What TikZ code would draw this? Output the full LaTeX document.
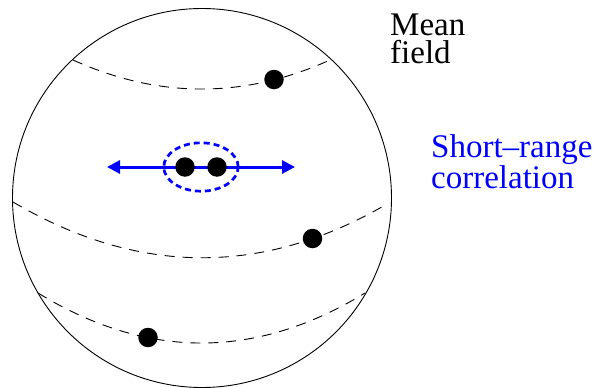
\documentclass[tikz,border=0pt]{standalone}
\usepackage{fontspec}
\setmainfont{Liberation Serif}
\usetikzlibrary{arrows.meta,shapes.geometric}
\begin{document}
\begin{tikzpicture}[x=1pt,y=-1pt,
  latline/.style={dash pattern=on 10pt off 8pt, line width=0.9pt},
  particle/.style={circle, fill=black, inner sep=0pt, minimum size=19.5pt},
  lbl/.style={font=\fontsize{33}{28}\selectfont, align=left, inner sep=0pt, anchor=north west},
  corrarrow/.style={blue, line width=3pt, {Triangle[length=13pt,width=13pt]}-{Triangle[length=13pt,width=13pt]}}]
\useasboundingbox (0,0) rectangle (598,388);
\node[draw, circle, minimum size=379pt, inner sep=0pt, line width=0.9pt] (sphere) at (202,198) {};
% latitude lines
\draw[latline] (73,60) .. controls (158.7,98.7) and (244.3,98.7) .. (330,60);
\draw[latline] (13,202) .. controls (137,275) and (262,277) .. (387,204);
\draw[latline] (38,293) .. controls (147,359.7) and (256,359.7) .. (365,293);
% short-range pair
\node[ellipse, draw=blue, line width=2.7pt, dash pattern=on 6pt off 4pt, minimum width=74.4pt, minimum height=48.4pt, inner sep=0pt] (pair) at (201,167) {};
\coordinate (la) at (107,167);
\coordinate (ra) at (295,167);
\draw[corrarrow] (la) -- (ra);
% particles
\node[particle] (p1) at (274,79.5) {};
\node[particle] (p2) at (185,167) {};
\node[particle] (p3) at (217,167) {};
\node[particle] (p4) at (312.5,238.5) {};
\node[particle] (p5) at (148,337.5) {};
% labels
\node[lbl] (mf) at (390,13.2) {Mean\\field};
\node[lbl, text=blue] (src) at (431,134.5) {Short--range\\correlation};
\end{tikzpicture}
\end{document}
